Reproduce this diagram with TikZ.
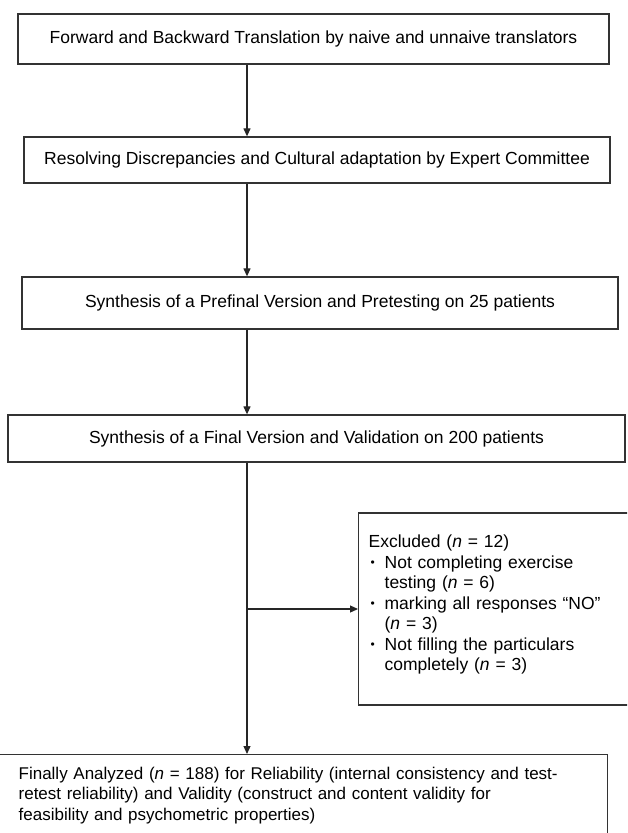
\documentclass[tikz,border=0pt]{standalone}
\usepackage{fontspec}
\setmainfont{Liberation Sans}
\usetikzlibrary{arrows.meta}
\newcommand{\excbul}{\makebox[16pt][l]{\hspace{2pt}\raisebox{1.6pt}{\fontsize{12}{12}\selectfont\textbullet}}}

\begin{document}
\begin{tikzpicture}[x=1pt,y=-1pt,>={Triangle[length=8pt,width=7pt]},line join=miter,
  box/.style={draw=black!80,line width=1.3pt,inner sep=0pt,font=\fontsize{17.5}{20.5}\selectfont},
  flow/.style={->,draw=black!85,line width=1.2pt}]
\useasboundingbox (0,0) rectangle (627,833);
\clip (0,0) rectangle (627,833);
\coordinate (spine) at (247,0);
\node[box,minimum width=591pt,minimum height=50pt] (fwd) at (313.5,39) {Forward and Backward Translation by naive and unnaive translators};
\node[box,minimum width=586pt,minimum height=46pt] (cmt) at (317,160) {Resolving Discrepancies and Cultural adaptation by Expert Committee};
\node[box,minimum width=596pt,minimum height=52pt] (pre) at (320,303) {Synthesis of a Prefinal Version and Pretesting on 25 patients};
\node[box,minimum width=617pt,minimum height=47pt] (fin) at (316.5,438.5) {Synthesis of a Final Version and Validation on 200 patients};
\node[box,anchor=west,minimum height=192pt,inner xsep=10pt,text width=280pt,align=left] (exc) at (358,609) {Excluded (\textit{n} = 12)\\
\excbul Not completing exercise\\
\hspace{16pt}testing (\textit{n} = 6)\\
\excbul marking all responses “NO”\\
\hspace{16pt}(\textit{n} = 3)\\
\excbul Not filling the particulars\\
\hspace{16pt}completely (\textit{n} = 3)\rule[-12pt]{0pt}{0pt}};
\node[box,anchor=north west,minimum height=100pt,inner xsep=20pt,text width=569pt,align=left,font=\fontsize{17}{20.5}\selectfont] (ana) at (-2,754) {Finally Analyzed (\textit{n} = 188) for Reliability (internal consistency and test-\\
retest reliability) and Validity (construct and content validity for\\
feasibility and psychometric properties)\rule[-22pt]{0pt}{0pt}};
\draw[flow] (fwd.south -| spine) -- (cmt.north -| spine);
\draw[flow] (cmt.south -| spine) -- (pre.north -| spine);
\draw[flow] (pre.south -| spine) -- (fin.north -| spine);
\draw[flow] (fin.south -| spine) -- (ana.north -| spine);
\draw[flow] (spine |- exc.west) -- (exc.west);
\end{tikzpicture}
\end{document}
